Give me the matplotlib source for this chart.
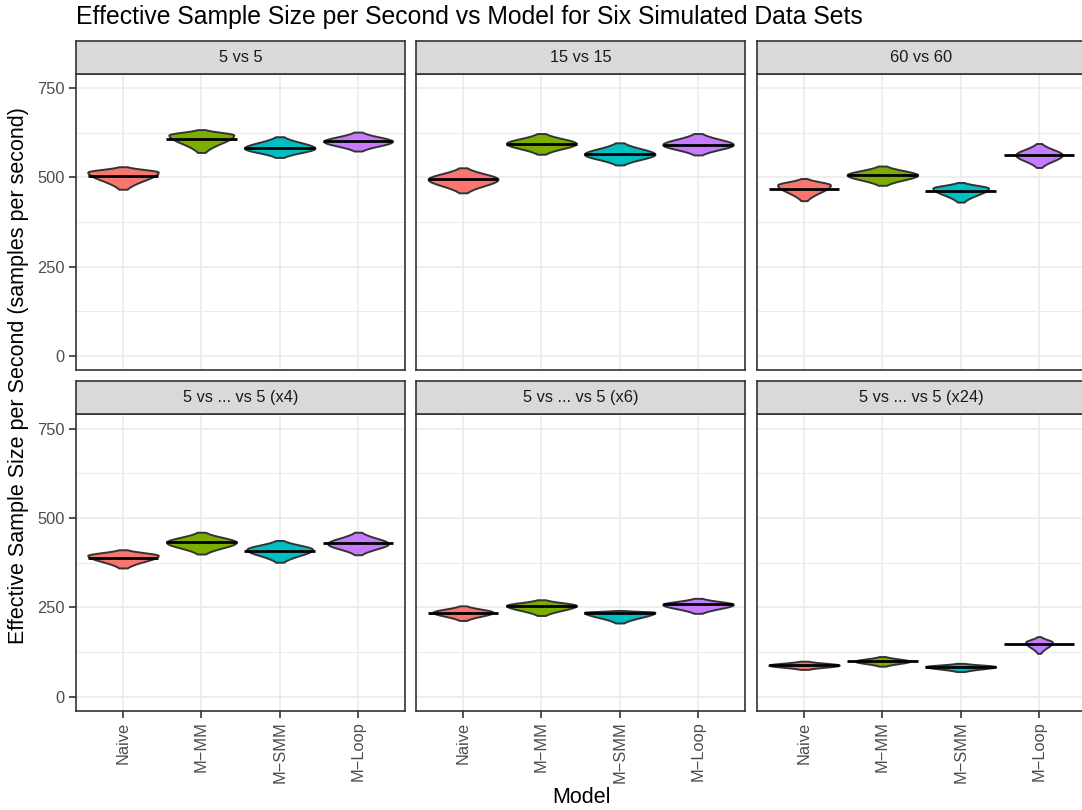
import numpy as np
import matplotlib.pyplot as plt

plt.rcParams['font.family'] = ['Liberation Sans', 'DejaVu Sans']

# facets and models
panels = ["5 vs 5", "15 vs 15", "60 vs 60",
          "5 vs ... vs 5 (x4)", "5 vs ... vs 5 (x6)", "5 vs ... vs 5 (x24)"]
models = ["Naive", "M\u2212MM", "M\u2212SMM", "M\u2212Loop"]
colors = ["#F8766D", "#7CAE00", "#00BFC4", "#C77CFF"]

# ESS per second (one row per panel, one value per model)
ess_median = [[504, 607, 582, 601],
              [495, 593, 565, 592],
              [469, 507, 462, 563],
              [388, 432, 408, 431],
              [233, 253, 233, 258],
              [88, 99, 82, 146]]
ess_low = [[467, 570, 556, 574],
           [457, 565, 535, 563],
           [435, 478, 431, 528],
           [360, 399, 376, 397],
           [213, 227, 206, 233],
           [76, 85, 70, 121]]
ess_high = [[530, 634, 614, 627],
            [527, 623, 597, 623],
            [497, 532, 486, 595],
            [411, 460, 437, 460],
            [254, 271, 241, 275],
            [99, 112, 93, 168]]
ess_mode = [[515, 619, 582, 601],
            [495, 595, 565, 592],
            [479, 507, 470, 563],
            [395, 432, 412, 428],
            [236, 255, 236, 258],
            [88, 99, 84, 152]]
# relative peak density of each violin within its panel
rel_density = [[1.0, 0.92, 1.0, 0.97],
               [0.99, 0.99, 1.0, 1.0],
               [0.75, 1.0, 0.79, 0.66],
               [1.0, 0.99, 0.93, 0.86],
               [0.85, 0.99, 1.0, 1.0],
               [1.0, 0.77, 0.99, 0.38]]

W, H = 1082, 810
fig = plt.figure(figsize=(W / 100, H / 100), dpi=100)

lefts = [76, 416, 757]
tops = [73.5, 414]
pw, ph, sh = 329, 296.5, 33
border = "#333333"

for k, name in enumerate(panels):
    r, c = divmod(k, 3)
    l, t = lefts[c], tops[r]
    ax = fig.add_axes([l / W, (H - t - ph) / H, pw / W, ph / H])
    ax.set_xlim(0.4, 4.6)
    ax.set_ylim(-39, 791)
    ax.set_xticks(range(1, 5))
    ax.set_yticks([0, 250, 500, 750])
    ax.set_yticks([125, 375, 625], minor=True)
    ax.grid(which='major', color='#EBEBEB', lw=1.2, zorder=0)
    ax.grid(which='minor', axis='y', color='#EBEBEB', lw=0.7, zorder=0)
    ax.set_axisbelow(True)
    for s in ax.spines.values():
        s.set_color(border)
        s.set_linewidth(1.2)
    ax.tick_params(which='minor', length=0)
    ax.tick_params(which='major', length=5, width=1.2, color=border,
                   labelsize=11.8, labelcolor='#4D4D4D', pad=3)
    if c == 0:
        ax.set_yticklabels(["0", "250", "500", "750"])
    else:
        ax.tick_params(axis='y', length=0, labelleft=False)
    if r == 1:
        ax.set_xticklabels(models, rotation=90, va='top', ha='center')
    else:
        ax.tick_params(axis='x', length=0, labelbottom=False)

    for i in range(4):
        lo, hi = ess_low[k][i], ess_high[k][i]
        mo, me = ess_mode[k][i], ess_median[k][i]
        y = np.linspace(lo, hi, 120)
        d = y - mo
        spread = np.where(d < 0, max(mo - lo, 1), max(hi - mo, 1)) / 2.06
        w = 0.45 * rel_density[k][i] * np.exp(-0.5 * (d / spread) ** 2)
        x = i + 1
        ax.fill_betweenx(y, x - w, x + w, facecolor=colors[i],
                         edgecolor=border, lw=1.4, zorder=2)
        ax.hlines(me, x - 0.45, x + 0.45, color='black', lw=2.0, zorder=3)

    sax = fig.add_axes([l / W, (H - t) / H, pw / W, sh / H])
    sax.set_facecolor('#D9D9D9')
    sax.set_xticks([])
    sax.set_yticks([])
    for s in sax.spines.values():
        s.set_color(border)
        s.set_linewidth(1.2)
    sax.text(0.5, 0.5, name, ha='center', va='center', size=11.8,
             color='#1A1A1A', transform=sax.transAxes)

fig.text(76 / W, 1 - 24.3 / H,
         "Effective Sample Size per Second vs Model for Six Simulated Data Sets",
         size=17.8, va='baseline', ha='left')
fig.text(581 / W, 1 - 803 / H, "Model", size=15.5, ha='center', va='baseline')
fig.text(19 / W, 1 - 376 / H, "Effective Sample Size per Second (samples per second)",
         size=15.5, rotation=90, ha='center', va='center')

fig.savefig("out.png", dpi=100)
